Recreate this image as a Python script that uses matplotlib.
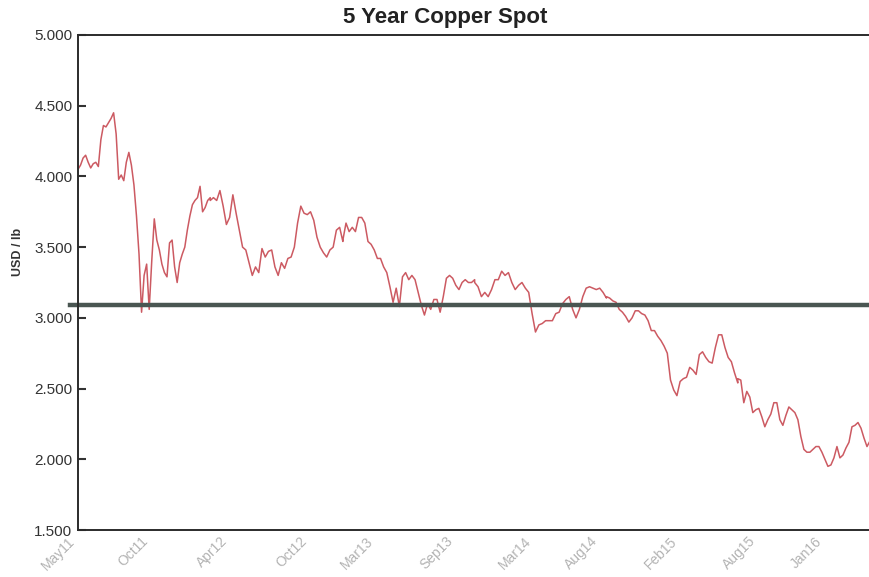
import pandas as pd
import matplotlib
matplotlib.use('Agg')
import matplotlib.pyplot as plt
import matplotlib.transforms as mtrans
from matplotlib.ticker import FuncFormatter

plt.rcParams['font.family'] = ['Liberation Sans', 'DejaVu Sans']

# copper spot, USD/lb in 10-month blocks
may11_mar12 = [4.05, 4.08, 4.13, 4.15, 4.10, 4.06, 4.09, 4.10, 4.07, 4.26,
               4.36, 4.35, 4.38, 4.41, 4.45, 4.30, 3.98, 4.01, 3.97, 4.10,
               4.17, 4.08, 3.94, 3.72, 3.45, 3.04, 3.30, 3.38, 3.06, 3.40,
               3.70, 3.55, 3.48, 3.38, 3.32, 3.29, 3.53, 3.55, 3.36, 3.25,
               3.39, 3.45, 3.50, 3.62, 3.72, 3.80, 3.83, 3.85, 3.93, 3.75,
               3.78, 3.83, 3.85]
mar12_jan13 = [3.83, 3.85, 3.83, 3.90, 3.79, 3.66, 3.71, 3.87, 3.74, 3.62,
               3.50, 3.48, 3.39, 3.30, 3.36, 3.32, 3.49, 3.43, 3.47, 3.48,
               3.36, 3.30, 3.39, 3.35, 3.42, 3.43, 3.50, 3.67, 3.79, 3.74,
               3.73, 3.75, 3.69, 3.57, 3.50, 3.46, 3.43, 3.48, 3.50, 3.62,
               3.64, 3.54]
jan13_nov13 = [3.55, 3.67, 3.61, 3.64, 3.61, 3.71, 3.71, 3.67, 3.54, 3.52,
               3.48, 3.42, 3.42, 3.36, 3.32, 3.22, 3.11, 3.21, 3.08, 3.29,
               3.32, 3.27, 3.30, 3.27, 3.18, 3.09, 3.02, 3.10, 3.06, 3.13,
               3.13, 3.04, 3.15, 3.28, 3.30, 3.28, 3.23, 3.20, 3.25, 3.27,
               3.25, 3.25, 3.27]
nov13_sep14 = [3.25, 3.22, 3.15, 3.18, 3.15, 3.20, 3.27, 3.27, 3.33, 3.30,
               3.32, 3.25, 3.20, 3.23, 3.25, 3.21, 3.18, 3.03, 2.90, 2.95,
               2.96, 2.98, 2.98, 2.98, 3.03, 3.04, 3.10, 3.13, 3.15, 3.06,
               3.00, 3.06, 3.15, 3.21, 3.22, 3.21, 3.20, 3.21, 3.18, 3.14]
sep14_jul15 = [3.15, 3.14, 3.12, 3.11, 3.06, 3.04, 3.01, 2.97, 3.00, 3.05,
               3.05, 3.03, 3.02, 2.98, 2.91, 2.91, 2.87, 2.84, 2.80, 2.75,
               2.56, 2.49, 2.45, 2.55, 2.57, 2.58, 2.65, 2.63, 2.60, 2.74,
               2.76, 2.72, 2.69, 2.68, 2.79, 2.88, 2.88, 2.79, 2.72, 2.69,
               2.61, 2.54]
jul15_may16 = [2.57, 2.56, 2.40, 2.48, 2.44, 2.33, 2.35, 2.36, 2.30, 2.23,
               2.28, 2.32, 2.40, 2.40, 2.28, 2.24, 2.31, 2.37, 2.35, 2.33,
               2.28, 2.16, 2.07, 2.05, 2.05, 2.07, 2.09, 2.09, 2.05, 2.00,
               1.95, 1.96, 2.01, 2.09, 2.01, 2.03, 2.08, 2.12, 2.23, 2.24,
               2.26, 2.22, 2.15, 2.09, 2.13]

block_edges = ['2011-05-01', '2012-03-01', '2013-01-01', '2013-11-01',
               '2014-09-01', '2015-07-01', '2016-05-01']
blocks = [may11_mar12, mar12_jan13, jan13_nov13, nov13_sep14, sep14_jul15, jul15_may16]

avg_level = 3.09

tick_labels = ['May11', 'Oct11', 'Apr12', 'Oct12', 'Mar13', 'Sep13',
               'Mar14', 'Aug14', 'Feb15', 'Aug15', 'Jan16']

dates = []
prices = []
for i, vals in enumerate(blocks):
    d = pd.date_range(block_edges[i], block_edges[i + 1], periods=len(vals))
    dates.extend(d)
    prices.extend(vals)

fig = plt.figure(figsize=(8.7, 5.77), dpi=100)
ax = fig.add_axes([78 / 870, 1 - 530 / 577, 1 - 78 / 870, (530 - 35) / 577])

ax.plot(dates, prices, color='#cc5a62', lw=1.1)
ax.axhline(avg_level, xmin=-0.01, color='#4a5652', lw=3.2, clip_on=False)

ax.set_xlim(pd.Timestamp(block_edges[0]), pd.Timestamp(block_edges[-1]))
ax.set_ylim(1.5, 5.0)
ax.set_yticks([1.5, 2.0, 2.5, 3.0, 3.5, 4.0, 4.5, 5.0])
ax.yaxis.set_major_formatter(FuncFormatter(lambda v, p: f'{v:.3f}'))
ax.tick_params(axis='y', direction='in', length=6, width=1.5, colors='#333333',
               labelsize=11, pad=4)

tick_dates = pd.to_datetime(tick_labels, format='%b%y')
ax.set_xticks(tick_dates)
ax.set_xticklabels(tick_labels, rotation=45, ha='right', color='#b3b3b3', fontsize=10)
ax.tick_params(axis='x', length=0, pad=3)
# the labels sit a little right of the month start, except the first one
for lab in ax.get_xticklabels()[1:]:
    lab.set_transform(lab.get_transform() + mtrans.ScaledTranslation(7 / 100, 0, fig.dpi_scale_trans))

for s in ['left', 'bottom', 'top']:
    ax.spines[s].set_color('#2b2b2b')
    ax.spines[s].set_linewidth(1.4)
ax.spines['right'].set_visible(False)

fig.text(445 / 870, 1 - 17 / 577, '5 Year Copper Spot', ha='center', va='center',
         fontsize=16, fontweight='bold', color='#222222')
fig.text(18 / 870, 1 - 252 / 577, 'USD / lb', rotation=90, ha='center', va='center',
         fontsize=9, fontweight='bold', color='#333333')

fig.savefig('out.png', dpi=100)
